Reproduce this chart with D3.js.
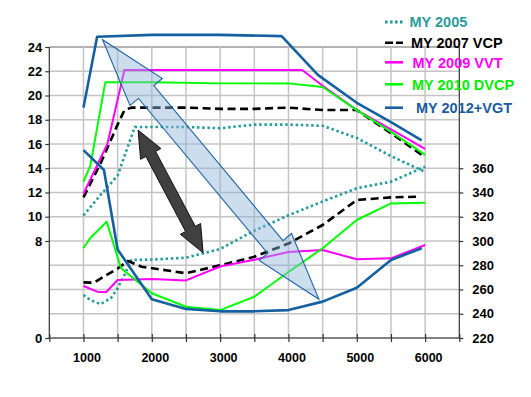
<!DOCTYPE html>
<html><head><meta charset="utf-8">
<script src="https://cdn.jsdelivr.net/npm/d3@7"></script>
<style>
html,body{margin:0;padding:0;background:#fff;}
svg{display:block;font-family:"Liberation Sans",Arial,sans-serif;font-weight:bold;}
</style></head>
<body>
<svg id="c" width="531" height="397"></svg>
<script>
// ---------- data ----------
const rpmTicks = [500,1000,1500,2000,2500,3000,3500,4000,4500,5000,5500,6000,6500];
const rpmLabels = [1000,2000,3000,4000,5000,6000];
const leftGrid = [0,2,4,6,8,10,12,14,16,18,20,22,24];
const leftLabels = [0,8,10,12,14,16,18,20,22,24];
const rightLabels = [220,240,260,280,300,320,340,360];

const seriesNames = ["MY 2005","MY 2007 VCP","MY 2009 VVT","MY 2010 DVCP","MY 2012+VGT"];

// upper curves (left axis)
const torque2005 = [[1000,10.1],[1250,11.8],[1500,13.4],[1750,17.4],[2000,17.4],[2500,17.4],[3000,17.3],[3500,17.6],[4000,17.6],[4500,17.5],[5000,16.5],[5500,15.0],[6000,13.7]];
const torque2007 = [[1000,11.6],[1250,14.4],[1500,17.6],[1600,18.8],[1700,19.0],[2000,19.0],[2500,19.0],[3000,18.9],[3500,18.9],[4000,19.0],[4500,18.8],[5000,18.8],[5500,16.9],[6000,14.9]];
const torque2009 = [[1000,11.9],[1350,16.0],[1600,22.1],[2000,22.1],[3000,22.1],[4200,22.1],[4500,20.8],[5000,18.8],[5500,17.2],[6000,15.6]];
const torque2010 = [[1000,12.9],[1100,14.2],[1320,21.1],[2000,21.1],[3000,21.0],[4000,21.0],[4500,20.7],[5000,18.8],[5500,17.0],[6000,15.1]];
const torque2012 = [[1000,19.0],[1200,24.85],[2000,25.0],[3000,25.0],[3900,24.9],[4430,21.7],[5000,19.4],[5500,17.8],[5950,16.3]];

// lower curves (right axis)
const bsfc2005 = [[1000,255.5],[1100,251.3],[1250,248],[1400,252.7],[1500,261],[1600,272],[1700,284.3],[2000,284.7],[2500,286.2],[3000,293.4],[3500,308.5],[4000,321.2],[4500,332.6],[5000,343.5],[5500,348.9],[6000,361.3]];
const bsfc2007 = [[1000,265.9],[1150,265.6],[1500,277.3],[1650,283.5],[1850,278.8],[2500,273.4],[3000,280],[3500,287],[4000,297.9],[4500,313.2],[5000,333.8],[5500,336],[5900,336.5]];
const bsfc2009 = [[1000,262.9],[1200,258.2],[1330,257.7],[1500,267.8],[2000,268.6],[2500,267.5],[3000,279],[3500,284.5],[4000,291],[4500,292.6],[5000,284.9],[5500,285.7],[6000,296.7]];
const bsfc2010 = [[1000,294.2],[1100,302.5],[1340,315.9],[1550,277.5],[2000,256.9],[2500,245.8],[3000,243],[3500,254],[4000,274.4],[4500,294],[5000,317.3],[5500,331],[6000,331.6]];
const bsfc2012 = [[1000,375],[1300,358.6],[1500,293],[2000,252],[2500,244],[3000,242],[3500,242],[4000,243],[4500,250],[5000,261.5],[5500,284.3],[5950,294]];

// annotation arrows (data units: rpm, left-axis value)
const bigArrow = [[1280,24.6],[4445,3.2]];
const darkArrow = [[1800,17.15],[2750,7.03]];

// ---------- drawing ----------
const svg = d3.select("#c");
const x = d3.scaleLinear().domain([500,6500]).range([49.3,459.3]);
const yL = d3.scaleLinear().domain([0,24]).range([338,47]);
const yR = d3.scaleLinear().domain([220,460]).range([338,47]);

const colors = ["#1f9b9b","#000000","#ff00ff","#00ff00","#1560a0"];
const textColors = ["#2a9c9c","#000000","#ff00ff","#00ee00","#1a5c9c"];
const widths = [2.6,2.6,2,2,2.6];
const dashes = ["2.4,2.8","8,4.5",null,null,null];

// grid
const g = svg.append("g");
g.selectAll(".hg").data(leftGrid).join("line")
  .attr("x1",x(500)).attr("x2",x(6500))
  .attr("y1",d=>yL(d)).attr("y2",d=>yL(d))
  .attr("stroke",d=>d===24?"#666":"#c4c4c4").attr("stroke-width",d=>d===24?1.2:1.5);
g.selectAll(".vg").data(rpmTicks.filter(d=>d>500&&d<6500)).join("line")
  .attr("x1",d=>x(d)).attr("x2",d=>x(d))
  .attr("y1",yL(24)).attr("y2",yL(0))
  .attr("stroke","#c4c4c4").attr("stroke-width",1.5);

// axes
const axL = svg.append("g").attr("transform",`translate(${x(500)},0)`)
  .call(d3.axisLeft(yL).tickValues(leftLabels).tickSize(4).tickPadding(3).tickFormat(d3.format("d")));
const axR = svg.append("g").attr("transform",`translate(${x(6500)},0)`)
  .call(d3.axisRight(yR).tickValues(rightLabels).tickSize(4).tickPadding(9).tickFormat(d3.format("d")));
const axB = svg.append("g").attr("transform",`translate(0,${yL(0)})`)
  .call(d3.axisBottom(x).tickValues(rpmTicks).tickSize(4).tickPadding(11)
    .tickFormat(d=>rpmLabels.includes(d)?d:""));
axL.select(".domain").attr("d",`M0,${yL(24)}V${yL(0)}`);
axR.select(".domain").attr("d",`M0,${yL(24)}V${yL(0)}`);
axB.select(".domain").attr("d",`M${x(500)},0H${x(6500)}`);
axB.selectAll(".tick line").attr("y1",-4).attr("y2",4);
[axL,axR,axB].forEach(a=>{
  a.select(".domain").attr("stroke","#333").attr("stroke-width",1.2);
  a.selectAll(".tick line").attr("stroke","#333").attr("stroke-width",1.2);
  a.selectAll("text").attr("fill","#000").attr("font-family","Liberation Sans, Arial, sans-serif")
    .attr("font-weight","bold").attr("font-size",13);
});
axB.selectAll("text").attr("font-size",12.5).attr("dx",3);

// lines
const lineL = d3.line().x(d=>x(d[0])).y(d=>yL(d[1]));
const lineR = d3.line().x(d=>x(d[0])).y(d=>yR(d[1]));
const upper = [torque2005,torque2007,torque2009,torque2010,torque2012];
const lower = [bsfc2005,bsfc2007,bsfc2009,bsfc2010,bsfc2012];
const lg = svg.append("g").attr("fill","none").attr("stroke-linejoin","round");
[0,1,2,3,4].forEach(i=>{
  [[upper[i],lineL],[lower[i],lineR]].forEach(([data,fn])=>{
    lg.append("path").attr("d",fn(data))
      .attr("stroke",colors[i]).attr("stroke-width",widths[i])
      .attr("stroke-dasharray",dashes[i]);
  });
});

// arrows
function doubleArrow(p1,p2,headLen,headHalf,shaftHalf){
  const dx=p2[0]-p1[0], dy=p2[1]-p1[1], L=Math.hypot(dx,dy);
  const ux=dx/L, uy=dy/L, nx=-uy, ny=ux;
  const pt=(base,a,b)=>[base[0]+ux*a+nx*b, base[1]+uy*a+ny*b];
  const pts=[p1, pt(p1,headLen,headHalf), pt(p1,headLen,shaftHalf), pt(p2,-headLen,shaftHalf),
    pt(p2,-headLen,headHalf), p2, pt(p2,-headLen,-headHalf), pt(p2,-headLen,-shaftHalf),
    pt(p1,headLen,-shaftHalf), pt(p1,headLen,-headHalf)];
  return "M"+pts.map(p=>p[0].toFixed(1)+","+p[1].toFixed(1)).join("L")+"Z";
}
const toPx = p=>[x(p[0]),yL(p[1])];
svg.append("path").attr("d",doubleArrow(toPx(bigArrow[0]),toPx(bigArrow[1]),68,21,10))
  .attr("fill","#8fb4d9").attr("fill-opacity",0.45)
  .attr("stroke","#1f64a6").attr("stroke-width",1.1).attr("stroke-linejoin","miter");
svg.append("path").attr("d",doubleArrow(toPx(darkArrow[0]),toPx(darkArrow[1]),27,11.5,5.5))
  .attr("fill","#404040").attr("stroke","#111").attr("stroke-width",1);

// legend
const legY = [22,42.7,62.3,84.3,107.7];
const legDx = [0,1.5,3,2.5,6.5];
const leg = svg.append("g");
seriesNames.forEach((name,i)=>{
  leg.append("line").attr("x1",385).attr("x2",403).attr("y1",legY[i]).attr("y2",legY[i])
    .attr("stroke",colors[i]).attr("stroke-width",i===0?3:2.6)
    .attr("stroke-dasharray",i===0?"2.6,2.4":(i===1?"8,3":null));
  leg.append("text").attr("x",409.5+legDx[i]).attr("y",legY[i]).attr("dy","0.36em")
    .attr("fill",textColors[i]).attr("font-size",14.5).text(name);
});
</script>
</body></html>
